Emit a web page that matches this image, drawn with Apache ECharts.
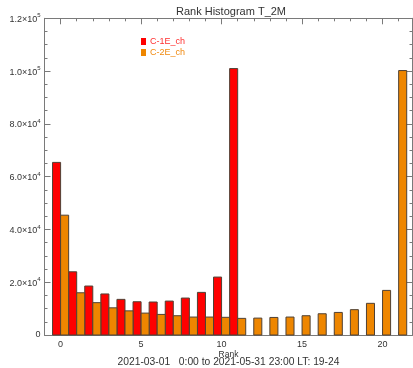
<!DOCTYPE html>
<html>
<head>
<meta charset="utf-8">
<script src="https://cdn.jsdelivr.net/npm/echarts@6/dist/echarts.min.js"></script>
<style>
  html, body { margin: 0; padding: 0; background: #fff; }
  #chart { width: 413px; height: 368px; }
</style>
</head>
<body>
<div id="chart"></div>
<script>
// Rank histogram counts for the two ensembles
const seriesNames = ['C-1E_ch', 'C-2E_ch'];
const ranks1 = [0, 1, 2, 3, 4, 5, 6, 7, 8, 9, 10, 11];
const counts1 = [65400, 23950, 18550, 15550, 13500, 12600, 12500, 12850, 14000, 16150, 21950, 100950];
const ranks2 = [0, 1, 2, 3, 4, 5, 6, 7, 8, 9, 10, 11, 12, 13, 14, 15, 16, 17, 18, 19, 20, 21];
const counts2 = [45400, 16000, 12250, 10300, 9150, 8300, 7800, 7300, 6800, 6800, 6700, 6300,
                 6400, 6650, 6800, 7300, 8050, 8550, 9600, 12000, 16900, 100200];
const xMajorTicks = [0, 5, 10, 15, 20];
const titleText = 'Rank Histogram T_2M';
const xName = 'Rank';
const periodText = '2021-03-01   0:00 to 2021-05-31 23:00 LT: 19-24';

const colors = ['#ff0000', '#ee8600'];
const legendText = ['#ff3030', '#f08a10'];
const axisGray = '#7a7a7a';
const textGray = '#333333';
const fontFam = 'Liberation Sans, Arial, sans-serif';

// Each rank gets a half-unit slot: ensemble 1 to the left of the rank, ensemble 2 to the right
function barRenderer(x0Off, x1Off) {
  return function (params, api) {
    const r = api.value(0), v = api.value(1);
    const p0 = api.coord([r + x0Off, v]);
    const p1 = api.coord([r + x1Off, 0]);
    return {
      type: 'rect',
      shape: { x: p0[0], y: p0[1], width: p1[0] - p0[0], height: p1[1] - p0[1] },
      style: api.style({ stroke: '#4f4034', lineWidth: 1 })
    };
  };
}

function sciLabel(v) {
  if (v === 0) return '0';
  const e = Math.floor(Math.log10(v) + 1e-9);
  const m = (v / Math.pow(10, e)).toFixed(1);
  return '{m|' + m + '×10}{e|' + e + '}';
}

const xMin = -1, xMax = 21.86;
const minorX = [];
for (let i = -1; i <= 21; i++) minorX.push(i);

const baseX = {
  type: 'value', min: xMin, max: xMax, gridIndex: 0,
  splitLine: { show: false },
  axisLine: { show: true, onZero: false, lineStyle: { color: axisGray, width: 1 } }
};

const chart = echarts.init(document.getElementById('chart'), null, { renderer: 'canvas' });
chart.setOption({
  backgroundColor: '#ffffff',
  animation: false,
  title: {
    text: titleText, left: 171, top: 1,
    textStyle: { fontFamily: fontFam, fontSize: 11, fontWeight: 'normal', color: textGray }
  },
  legend: {
    orient: 'vertical', left: 136, top: 32,
    itemWidth: 5, itemHeight: 7, itemGap: 2, icon: 'rect',
    itemStyle: { borderWidth: 0 },
    data: seriesNames.map((n, i) => ({ name: n, textStyle: { color: legendText[i] } })),
    textStyle: { fontFamily: fontFam, fontSize: 9, padding: [0, 0, 0, -1] }
  },
  grid: { left: 44.5, right: 0.5, top: 18.3, bottom: 33, containLabel: false },
  xAxis: [
    Object.assign({}, baseX, {
      position: 'bottom',
      name: xName, nameLocation: 'middle', nameGap: 15, nameMoveOverlap: false,
      nameTextStyle: { fontFamily: fontFam, fontSize: 8.5, color: textGray },
      axisTick: { show: true, inside: true, length: 3, customValues: minorX, lineStyle: { color: axisGray } },
      axisLabel: { customValues: xMajorTicks, fontFamily: fontFam, fontSize: 9, color: textGray, margin: 5 }
    }),
    Object.assign({}, baseX, {
      position: 'bottom',
      axisLine: { show: false, onZero: false },
      axisTick: { show: true, inside: true, length: 6, customValues: xMajorTicks, lineStyle: { color: axisGray } },
      axisLabel: { show: false }
    }),
    Object.assign({}, baseX, {
      position: 'top',
      axisTick: { show: true, inside: true, length: 3, customValues: minorX, lineStyle: { color: axisGray } },
      axisLabel: { show: false }
    }),
    Object.assign({}, baseX, {
      position: 'top',
      axisLine: { show: false, onZero: false },
      axisTick: { show: true, inside: true, length: 6, customValues: xMajorTicks, lineStyle: { color: axisGray } },
      axisLabel: { show: false }
    })
  ],
  yAxis: [
    {
      type: 'value', min: 0, max: 120000, interval: 20000, position: 'left',
      splitLine: { show: false },
      axisLine: { show: true, onZero: false, lineStyle: { color: axisGray } },
      axisTick: { show: true, inside: true, length: 6, lineStyle: { color: axisGray } },
      minorTick: { show: true, splitNumber: 4, length: 3, lineStyle: { color: axisGray } },
      axisLabel: {
        margin: 4, color: textGray,
        formatter: sciLabel,
        rich: {
          m: { fontFamily: fontFam, fontSize: 9, color: textGray, verticalAlign: 'bottom', lineHeight: 11 },
          e: { fontFamily: fontFam, fontSize: 6, color: textGray, verticalAlign: 'top', lineHeight: 11 }
        },
        fontFamily: fontFam, fontSize: 9
      }
    },
    {
      type: 'value', min: 0, max: 120000, interval: 20000, position: 'right',
      splitLine: { show: false },
      axisLine: { show: true, onZero: false, lineStyle: { color: axisGray } },
      axisTick: { show: true, inside: true, length: 6, lineStyle: { color: axisGray } },
      minorTick: { show: true, splitNumber: 4, length: 3, lineStyle: { color: axisGray } },
      axisLabel: { show: false }
    }
  ],
  graphic: [{
    type: 'text', x: 228.5, y: 362,
    style: {
      text: periodText, fontFamily: fontFam, fontSize: 10.3, fill: textGray,
      align: 'center', verticalAlign: 'middle'
    }
  }],
  series: [
    {
      name: seriesNames[0], type: 'custom', xAxisIndex: 0, yAxisIndex: 0,
      itemStyle: { color: colors[0] },
      renderItem: barRenderer(-0.5, 0),
      encode: { x: 0, y: 1 },
      data: ranks1.map((r, i) => [r, counts1[i]])
    },
    {
      name: seriesNames[1], type: 'custom', xAxisIndex: 0, yAxisIndex: 0,
      itemStyle: { color: colors[1] },
      renderItem: barRenderer(0, 0.5),
      encode: { x: 0, y: 1 },
      data: ranks2.map((r, i) => [r, counts2[i]])
    }
  ]
});
</script>
</body>
</html>
